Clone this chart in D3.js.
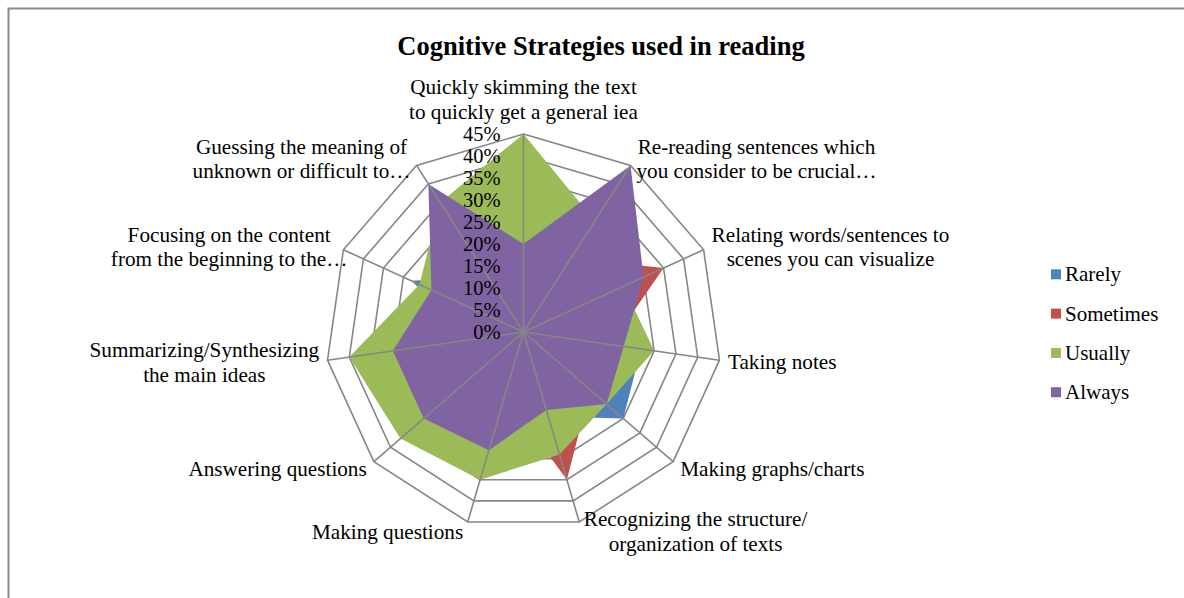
<!DOCTYPE html>
<html>
    <head>
        <meta charset="utf-8">
        <style>
        html, body {
            margin: 0px;
            background: #fff;
        }
        svg {
            display: block;
        }
        .chart text {
            font-family: "Liberation Serif", "Times New Roman", serif;
            fill: #000;
        }
        </style>
    </head>
    <body>
        <svg class="chart" width="1184" height="598"></svg>
        <script src="https://cdn.jsdelivr.net/npm/d3@7"></script>
        <script>
            var categories = [
                "Quickly skimming the text\nto quickly get a general iea",
                "Re-reading sentences which\nyou consider to be crucial\u2026",
                "Relating words/sentences to\nscenes you can visualize",
                "Taking notes",
                "Making graphs/charts",
                "Recognizing the structure/\norganization of texts",
                "Making questions",
                "Answering questions",
                "Summarizing/Synthesizing\nthe main ideas",
                "Focusing on the content\nfrom the beginning to the\u2026",
                "Guessing the meaning of\nunknown or difficult to\u2026"
            ];

            var seriesNames = ["Rarely", "Sometimes", "Usually", "Always"];

            var rarely    = [0.10, 0.12, 0.15, 0.27, 0.30, 0.20, 0.10, 0.08, 0.12, 0.28, 0.15];
            var sometimes = [0.10, 0.20, 0.35, 0.20, 0.20, 0.35, 0.15, 0.10, 0.10, 0.10, 0.10];
            var usually   = [0.45, 0.30, 0.25, 0.30, 0.25, 0.29, 0.35, 0.37, 0.40, 0.26, 0.35];
            var always    = [0.20, 0.45, 0.30, 0.23, 0.25, 0.185, 0.28, 0.30, 0.30, 0.23, 0.40];

            var tickValues = [0, 0.05, 0.10, 0.15, 0.20, 0.25, 0.30, 0.35, 0.40, 0.45];
            var tickLabels = ["0%", "5%", "10%", "15%", "20%", "25%", "30%", "35%", "40%", "45%"];

            var colors = ["#4F81BD", "#C0504D", "#9BBB59", "#8064A2"];
            var gridColor = "#868686";

            var svg = d3.select(".chart");

            // outer frame of the chart area
            svg.append("rect")
               .attr("x", 8.5).attr("y", 8.5)
               .attr("width", 1200).attr("height", 620)
               .attr("fill", "#fff")
               .attr("stroke", "#8a8a8a")
               .attr("stroke-width", 2);

            svg.append("text")
               .attr("x", 601).attr("y", 55)
               .attr("text-anchor", "middle")
               .style("font-size", "26.5px")
               .style("font-weight", "bold")
               .text("Cognitive Strategies used in reading");

            var cx = 523.5, cy = 332;
            var n = categories.length;
            var r = d3.scaleLinear().domain([0, 0.45]).range([0, 198]);
            var angle = d3.scaleLinear().domain([0, n]).range([0, 2 * Math.PI]);

            var g = svg.append("g").attr("transform", "translate(" + cx + "," + cy + ")");

            var radial = d3.lineRadial()
                .angle(function(d, i) { return angle(i); })
                .radius(function(d) { return r(d); })
                .curve(d3.curveLinearClosed);

            // rings (behind the series)
            g.selectAll(".ring")
             .data(tickValues.slice(1))
             .enter().append("path")
             .attr("class", "ring")
             .attr("d", function(t) { return radial(categories.map(function() { return t; })); })
             .attr("fill", "none")
             .attr("stroke", gridColor)
             .attr("stroke-width", 1.6);

            var series = [rarely, sometimes, usually, always];
            g.selectAll(".series")
             .data(series)
             .enter().append("path")
             .attr("class", "series")
             .attr("d", function(d) { return radial(d); })
             .attr("fill", function(d, i) { return colors[i]; });

            // spokes on top
            g.selectAll(".spoke")
             .data(categories)
             .enter().append("line")
             .attr("class", "spoke")
             .attr("x1", 0).attr("y1", 0)
             .attr("x2", function(d, i) { return r(0.45) * Math.sin(angle(i)); })
             .attr("y2", function(d, i) { return -r(0.45) * Math.cos(angle(i)); })
             .attr("stroke", gridColor)
             .attr("stroke-width", 1.6);

            // tick labels along the top axis
            g.selectAll(".tick")
             .data(tickValues)
             .enter().append("text")
             .attr("class", "tick")
             .attr("x", -23)
             .attr("y", function(t) { return -r(t) + 7; })
             .attr("text-anchor", "end")
             .style("font-size", "20.5px")
             .text(function(t, i) { return tickLabels[i]; });

            // category labels
            var fs = 21.2, lineH = 24.5;
            categories.forEach(function(c, i) {
                var lines = c.split("\n");
                var a = angle(i), s = Math.sin(a), co = Math.cos(a);
                var vx = r(0.45) * s, vy = -r(0.45) * co;
                var t = g.append("text")
                         .attr("text-anchor", "middle")
                         .style("font-size", fs + "px");
                var spans = lines.map(function(l) { return t.append("tspan").text(l); });
                var w = d3.max(spans, function(sp) { return sp.node().getComputedTextLength(); });
                var mx, my;
                if (Math.abs(s) < 0.1) {
                    mx = vx;
                    my = vy - 10 - lines.length * lineH / 2;
                } else {
                    var off = 3 + 5.5 * Math.abs(s);
                    mx = s > 0 ? vx + off + w / 2 : vx - off - w / 2;
                    my = vy - 9 * co + 1;
                }
                // the truncated left label sits a little past its spoke
                if (i === 9) mx += 12;
                spans.forEach(function(sp, k) {
                    sp.attr("x", mx)
                      .attr("y", my - (lines.length - 1) * lineH / 2 + k * lineH + 7);
                });
            });

            // legend
            var legend = svg.selectAll(".legend")
                .data(seriesNames)
                .enter().append("g")
                .attr("class", "legend")
                .attr("transform", function(d, i) { return "translate(1051," + (274.3 + i * 39.3) + ")"; });

            legend.append("rect")
                  .attr("x", 0).attr("y", -5)
                  .attr("width", 10).attr("height", 10)
                  .attr("fill", function(d, i) { return colors[i]; });

            legend.append("text")
                  .attr("x", 14).attr("y", 7)
                  .style("font-size", "21px")
                  .text(function(d) { return d; });
        </script>
    </body>
</html>
